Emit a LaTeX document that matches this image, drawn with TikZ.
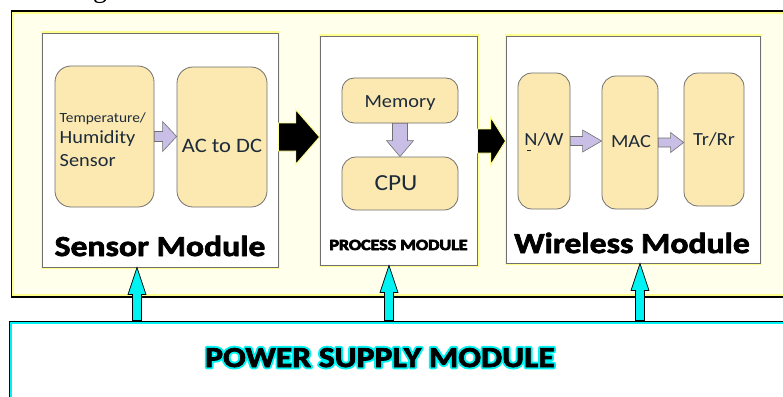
\documentclass[tikz,border=0pt]{standalone}
\usepackage{fontspec}
\setmainfont{Carlito}[FakeStretch=1.1]
\newfontfamily\titlefont{Carlito}[FakeStretch=1.16]
\newfontfamily\capfont{Liberation Serif}
\usetikzlibrary{calc}

\definecolor{boxfill}{HTML}{FCE9B1}
\definecolor{boxline}{HTML}{707070}
\definecolor{txt}{HTML}{1C2B3A}
\definecolor{lav}{HTML}{C8BEE6}
\definecolor{cream}{HTML}{FFFFEC}
\definecolor{glowyel}{HTML}{FFFF8C}
\definecolor{aqua}{HTML}{00F2F2}

% outlined text: glyphs stroked in cyan with the given width
\newcommand\cyanoutline[2]{%
  \special{pdf:literal direct q 2 Tr #1 w 1 j 0 0.95 0.95 RG 0 0.95 0.95 rg}#2\special{pdf:literal direct Q}}
% heavier black letters: glyphs filled and thinly stroked
\newcommand\heavy[1]{%
  \special{pdf:literal direct q 2 Tr 0.7 w 1 j 0 0 0 RG 0 0 0 rg}#1\special{pdf:literal direct Q}}

% horizontal block arrow: style, start, tip, body half-width, head half-width, head length
\newcommand\blockarrowh[6]{%
  \path[#1] let \p1=(#2), \p2=(#3) in
    (\x1,{\y1+#4}) -- ({\x2-#6},{\y1+#4}) -- ({\x2-#6},{\y1+#5}) -- (\x2,\y1)
    -- ({\x2-#6},{\y1-#5}) -- ({\x2-#6},{\y1-#4}) -- (\x1,{\y1-#4}) -- cycle;}
% vertical block arrow pointing down the page
\newcommand\blockarrowdown[6]{%
  \path[#1] let \p1=(#2), \p2=(#3) in
    ({\x1-#4},\y1) -- ({\x1-#4},{\y2+#6}) -- ({\x1-#5},{\y2+#6}) -- (\x1,\y2)
    -- ({\x1+#5},{\y2+#6}) -- ({\x1+#4},{\y2+#6}) -- ({\x1+#4},\y1) -- cycle;}
% vertical block arrow pointing up the page
\newcommand\blockarrowup[6]{%
  \path[#1] let \p1=(#2), \p2=(#3) in
    ({\x1-#4},\y1) -- ({\x1-#4},{\y2-#6}) -- ({\x1-#5},{\y2-#6}) -- (\x1,\y2)
    -- ({\x1+#5},{\y2-#6}) -- ({\x1+#4},{\y2-#6}) -- ({\x1+#4},\y1) -- cycle;}

\tikzset{
  unit/.style={draw=boxline, line width=0.8pt, fill=boxfill, inner sep=0pt},
  modbox/.style={preaction={draw=glowyel, line width=3pt}, draw=boxline,
    line width=0.9pt, fill=white, inner sep=0pt},
  unittext/.style={text=txt, inner sep=0pt},
  title/.style={text=black, inner sep=0pt, anchor=base, font=\titlefont\bfseries\fontsize{29}{29}\selectfont},
  bigarrow/.style={fill=black, draw=glowyel, line width=0.9pt},
  smallarrow/.style={fill=lav, draw=boxline, line width=0.6pt},
  powerarrow/.style={fill=aqua, draw=black, line width=0.7pt},
}

\begin{document}
\begin{tikzpicture}[x=1pt,y=-1pt]
\useasboundingbox (0,0) rectangle (783,396);
\fill[white] (0,0) rectangle (783,396);

% caption fragment above the frame
\node[inner sep=0pt, anchor=base, font=\capfont\fontsize{28}{28}\selectfont] (capg) at (100,-2.5) {g};

% outer frame holding the three modules
\node[draw=black, line width=3pt, fill=cream, minimum width=808pt, minimum height=284pt,
      inner sep=0pt] (frame) at (416,154) {};
\draw[glowyel, line width=2pt] ($(frame.north west)+(2.5,2.5)$) rectangle ($(frame.south east)+(-2.5,-2.5)$);

% power supply box
\node[draw=black, line width=3pt, fill=white, minimum width=810pt, minimum height=98pt,
      inner sep=0pt] (psu) at (415,371) {};
\draw[aqua, line width=2.4pt] ($(psu.north west)+(2.7,2.7)$) rectangle ($(psu.south east)+(-2.7,-2.7)$);

% module boxes
\node[modbox, minimum width=236pt, minimum height=234pt] (sensormod) at (160,150) {};
\node[modbox, minimum width=157pt, minimum height=229pt] (procmod) at (398.5,150.5) {};
\node[modbox, minimum width=254pt, minimum height=227pt] (wlmod) at (633,149.5) {};

% sensor module units
\node[unit, rounded corners=16pt, minimum width=99pt, minimum height=141pt] (temp) at (104.5,136.5) {};
\node[unit, rounded corners=16pt, minimum width=90pt, minimum height=140pt] (acdc) at (222,137) {};
\node[unittext, anchor=base west, font=\fontsize{14}{14}\selectfont] (templine1) at (59.5,122) {Temperature/};
\node[unittext, anchor=base west, font=\fontsize{18.5}{18.5}\selectfont] (templine2) at (59.5,143) {Humidity};
\node[unittext, anchor=base west, font=\fontsize{18.5}{18.5}\selectfont] (templine3) at (59.5,166.5) {Sensor};
\node[unittext, anchor=base, font=\fontsize{20.5}{20.5}\selectfont] (acdctext) at (222,152) {AC to DC};

% process module units
\node[unit, rounded corners=12pt, minimum width=116pt, minimum height=45pt] (memory) at (400,100.5) {};
\node[unit, rounded corners=14pt, minimum width=116pt, minimum height=53pt] (cpu) at (400,183.5) {};
\node[unittext, anchor=base, font=\fontsize{18.5}{18.5}\selectfont] (memtext) at (400,107) {Memory};
\node[unittext, anchor=base, font=\fontsize{23}{23}\selectfont] (cputext) at (396,190) {CPU};

% wireless module units
\node[unit, rounded corners=14pt, minimum width=52pt, minimum height=136pt] (nw) at (544,141) {};
\node[unit, rounded corners=14pt, minimum width=56pt, minimum height=133pt] (mac) at (630,142.5) {};
\node[unit, rounded corners=14pt, minimum width=60pt, minimum height=133pt] (trrr) at (714,139.5) {};
\node[unittext, anchor=base, font=\fontsize{18.5}{18.5}\selectfont] (nwtext) at (544,145) {N/W};
\draw[txt, line width=1pt] ($(nwtext.base west)+(3,5)$) -- ++(4,0);
\node[unittext, anchor=base, font=\fontsize{18.5}{18.5}\selectfont] (mactext) at (631,147) {MAC};
\node[unittext, anchor=base, font=\fontsize{18.5}{18.5}\selectfont] (trrrtext) at (714,145) {Tr/Rr};

% module titles
\node[title] (sensortitle) at (160,256) {\heavy{Sensor Module}};
\node[title, font=\titlefont\bfseries\fontsize{15.5}{15.5}\selectfont] (proctitle) at (398.5,250) {\heavy{PROCESS MODULE}};
\node[title] (wltitle) at (632,253) {\heavy{Wireless Module}};

% power supply title: cyan outline under black letters
\node[title] (pwrglow) at (380,367) {\cyanoutline{4.6}{POWER SUPPLY MODULE}};
\node[title] (pwrtitle) at (pwrglow.base) {\heavy{POWER SUPPLY MODULE}};

% data flow between modules
\blockarrowh{bigarrow}{sensormod.east |- acdc.east}{procmod.west |- acdc.east}{14pt}{27.5pt}{24pt}
\blockarrowh{bigarrow}{procmod.east |- nw.west}{wlmod.west |- nw.west}{12pt}{24pt}{15pt}

% flow inside the modules
\blockarrowh{smallarrow}{temp.east}{acdc.west |- temp.east}{5pt}{15pt}{14pt}
\blockarrowh{smallarrow}{nw.east}{mac.west |- nw.east}{4.5pt}{11pt}{19pt}
\blockarrowh{smallarrow}{mac.east}{trrr.west |- mac.east}{4.5pt}{10pt}{13pt}
\blockarrowdown{smallarrow}{memory.south}{cpu.north}{7.5pt}{13.5pt}{16pt}

% power feeds
\coordinate (feed1) at ($(sensormod.south)+(-23,0)$);
\coordinate (feed2) at ($(procmod.south)+(-9.5,0)$);
\coordinate (feed3) at ($(wlmod.south)+(7,0)$);
\blockarrowup{powerarrow}{feed1 |- psu.north}{feed1}{4.5pt}{9pt}{27pt}
\blockarrowup{powerarrow}{feed2 |- psu.north}{feed2}{4.5pt}{9pt}{27pt}
\blockarrowup{powerarrow}{feed3 |- psu.north}{feed3}{4.5pt}{9pt}{27pt}
\end{tikzpicture}
\end{document}
